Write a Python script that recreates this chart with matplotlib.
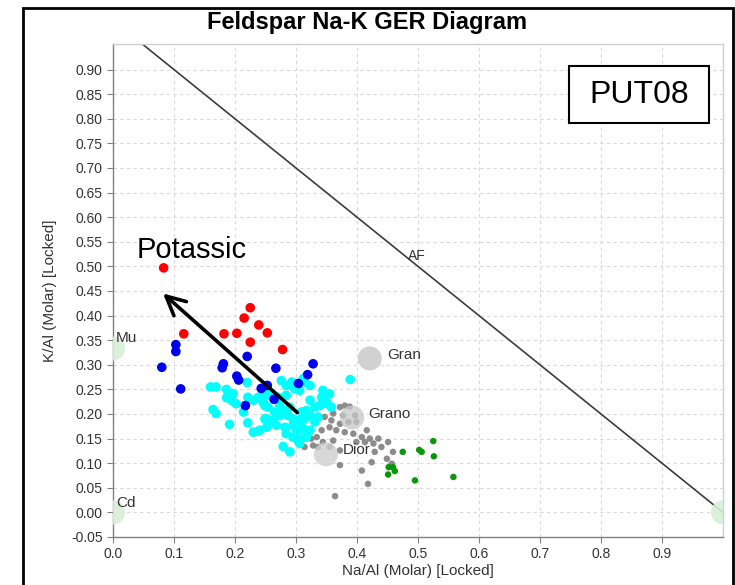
import matplotlib
matplotlib.use("Agg")
import matplotlib.pyplot as plt
import matplotlib.patches as mpatches
import numpy as np

plt.rcParams['font.family'] = ['Liberation Sans', 'DejaVu Sans']

# ---- data (Na/Al, K/Al) ----
red_x = [0.116, 0.182, 0.203, 0.225, 0.215, 0.239, 0.253, 0.225, 0.278, 0.083]
red_y = [0.363, 0.363, 0.364, 0.416, 0.395, 0.381, 0.365, 0.346, 0.331, 0.497]

blue_x = [0.103, 0.103, 0.080, 0.111, 0.181, 0.179, 0.220, 0.203, 0.206, 0.267,
          0.328, 0.319, 0.304, 0.243, 0.253, 0.264, 0.217]
blue_y = [0.341, 0.327, 0.295, 0.251, 0.302, 0.294, 0.317, 0.277, 0.269, 0.293,
          0.302, 0.280, 0.262, 0.252, 0.258, 0.230, 0.217]

cyan_x = [0.160, 0.169, 0.186, 0.197, 0.186, 0.194, 0.202, 0.220, 0.221, 0.230,
          0.238, 0.164, 0.169, 0.191, 0.214, 0.221, 0.230, 0.238, 0.252, 0.249,
          0.249, 0.252, 0.389, 0.276, 0.284, 0.293, 0.298, 0.306, 0.314, 0.323,
          0.252, 0.257, 0.271, 0.284, 0.344, 0.355, 0.342, 0.350, 0.339, 0.358,
          0.323, 0.331, 0.317, 0.309, 0.246, 0.254, 0.273, 0.279, 0.290, 0.265,
          0.249, 0.262, 0.273, 0.287, 0.295, 0.306, 0.314, 0.323, 0.331, 0.336,
          0.268, 0.282, 0.295, 0.301, 0.312, 0.323, 0.284, 0.295, 0.306, 0.317,
          0.241, 0.279, 0.290, 0.306, 0.303, 0.312, 0.350]
cyan_y = [0.255, 0.255, 0.250, 0.241, 0.233, 0.228, 0.221, 0.264, 0.234, 0.228,
          0.234, 0.209, 0.201, 0.179, 0.204, 0.182, 0.163, 0.165, 0.190, 0.217,
          0.241, 0.173, 0.270, 0.268, 0.258, 0.265, 0.251, 0.248, 0.265, 0.258,
          0.248, 0.238, 0.234, 0.238, 0.248, 0.241, 0.234, 0.224, 0.217, 0.214,
          0.228, 0.214, 0.207, 0.204, 0.224, 0.214, 0.217, 0.207, 0.214, 0.204,
          0.190, 0.187, 0.197, 0.197, 0.190, 0.187, 0.190, 0.197, 0.184, 0.194,
          0.177, 0.173, 0.177, 0.167, 0.170, 0.167, 0.160, 0.153, 0.150, 0.153,
          0.167, 0.134, 0.123, 0.140, 0.146, 0.272, 0.221]

grey_x = [0.372, 0.388, 0.361, 0.347, 0.377, 0.397, 0.372, 0.386, 0.399, 0.355,
          0.342, 0.366, 0.380, 0.394, 0.416, 0.408, 0.421, 0.435, 0.413, 0.427,
          0.334, 0.344, 0.325, 0.361, 0.314, 0.328, 0.355, 0.399, 0.451, 0.440,
          0.459, 0.429, 0.372, 0.424, 0.449, 0.372, 0.408, 0.457, 0.418, 0.364,
          0.380, 0.358, 0.336]
grey_y = [0.214, 0.215, 0.201, 0.194, 0.197, 0.197, 0.180, 0.184, 0.184, 0.173,
          0.167, 0.167, 0.163, 0.160, 0.167, 0.153, 0.150, 0.150, 0.143, 0.140,
          0.153, 0.143, 0.150, 0.146, 0.133, 0.136, 0.133, 0.143, 0.143, 0.133,
          0.123, 0.123, 0.126, 0.102, 0.109, 0.096, 0.085, 0.099, 0.058, 0.033,
          0.217, 0.187, 0.133]

green_x = [0.475, 0.502, 0.506, 0.525, 0.526, 0.452, 0.459, 0.462, 0.451, 0.495, 0.558]
green_y = [0.123, 0.127, 0.123, 0.145, 0.114, 0.092, 0.092, 0.084, 0.077, 0.065, 0.072]

# reference end-members
ref_names = ["Mu", "Cd", "", "Gran", "Grano", "Dior"]
ref_x = [0.0, 0.0, 1.0, 0.421, 0.392, 0.349]
ref_y = [0.333, 0.0, 0.0, 0.313, 0.193, 0.118]

xticks = [0.0, 0.1, 0.2, 0.3, 0.4, 0.5, 0.6, 0.7, 0.8, 0.9]
yticks = [-0.05, 0.00, 0.05, 0.10, 0.15, 0.20, 0.25, 0.30, 0.35, 0.40, 0.45,
          0.50, 0.55, 0.60, 0.65, 0.70, 0.75, 0.80, 0.85, 0.90]

# ---- figure ----
fig = plt.figure(figsize=(7.35, 5.85), dpi=100)
ax = fig.add_axes([113/735, 1-537/585, (723-113)/735, (537-44)/585])

ax.set_xlim(0.0, 1.0)
ax.set_ylim(-0.05, 0.952)

ax.grid(True, color='#d9d9d9', linestyle=(0, (3, 3)), linewidth=0.8)
ax.set_axisbelow(True)

# AF line
ax.plot([0, 1], [1, 0], color='#3c3c3c', lw=1.2, zorder=2)

ax.scatter(grey_x, grey_y, s=22, color='#8c8c8c', edgecolors='none', zorder=3)
ax.scatter(green_x, green_y, s=22, color='#0a960a', edgecolors='none', zorder=3)
ax.scatter(cyan_x, cyan_y, s=48, color='#00ffff', edgecolors='none', zorder=4)
ax.scatter(blue_x, blue_y, s=48, color='#0000f0', edgecolors='none', zorder=5)
ax.scatter(red_x, red_y, s=48, color='#ff0000', edgecolors='none', zorder=5)

ref_colors = ['#d6efd6', '#d6efd6', '#d6efd6', '#cfcfcf', '#c8c8c8', '#cfcfcf']
ref_alpha = [0.9, 0.9, 0.9, 0.95, 0.75, 0.8]
for nx, ny, c, a in zip(ref_x, ref_y, ref_colors, ref_alpha):
    ax.scatter([nx], [ny], s=300, color=c, alpha=a, edgecolors='none', zorder=6)

lab_off = {"Mu": (0.004, 0.354), "Cd": (0.005, 0.020), "Gran": (0.449, 0.319),
           "Grano": (0.418, 0.201), "Dior": (0.377, 0.126)}
for name in ref_names:
    if name:
        tx, ty = lab_off[name]
        ax.text(tx, ty, name, fontsize=11, color='#333333', ha='left', va='center', zorder=7)

ax.text(0.484, 0.522, "AF", fontsize=10, color='#333333', ha='left', va='center', zorder=7)

# arrow
ax.annotate("", xy=(0.082, 0.445), xytext=(0.302, 0.203),
            arrowprops=dict(arrowstyle='->', lw=2.6, color='black', mutation_scale=34,
                            shrinkA=0, shrinkB=0), zorder=8)
ax.text(0.039, 0.533, "Potassic", fontsize=21, color='black', ha='left', va='center', zorder=8)

# PUT08 box
ax.add_patch(mpatches.Rectangle((0.748, 0.839), 0.2286, 0.116, transform=ax.transAxes,
                                facecolor='white', edgecolor='black', lw=1.5, zorder=9))
ax.text(0.862, 0.897, "PUT08", transform=ax.transAxes, fontsize=23, ha='center',
        va='center', zorder=10)

ax.set_xticks(xticks)
ax.set_xticklabels([f"{v:.1f}" for v in xticks])
ax.set_yticks(yticks)
ax.set_yticklabels([f"{v:.2f}" for v in yticks])
ax.tick_params(labelsize=10, colors='#333333', length=4, width=0.8, color='#808080')

for sp in ['left', 'bottom']:
    ax.spines[sp].set_color('#808080')
    ax.spines[sp].set_linewidth(1.0)
for sp in ['top', 'right']:
    ax.spines[sp].set_color('#d0d0d0')
    ax.spines[sp].set_linewidth(1.0)

ax.set_xlabel("Na/Al (Molar) [Locked]", fontsize=11, color='#333333', labelpad=2)
ax.set_ylabel("K/Al (Molar) [Locked]", fontsize=11, color='#333333', labelpad=10)

fig.text(0.5, 1-23/585, "Feldspar Na-K GER Diagram", fontsize=17, fontweight='bold',
         ha='center', va='center')

# outer frame
fig.patches.append(mpatches.Rectangle((23/735, -0.02), (733-23)/735, 1-8/585+0.02,
                                      transform=fig.transFigure, fill=False,
                                      edgecolor='black', lw=2, zorder=10))

fig.savefig("out.png", dpi=100)
